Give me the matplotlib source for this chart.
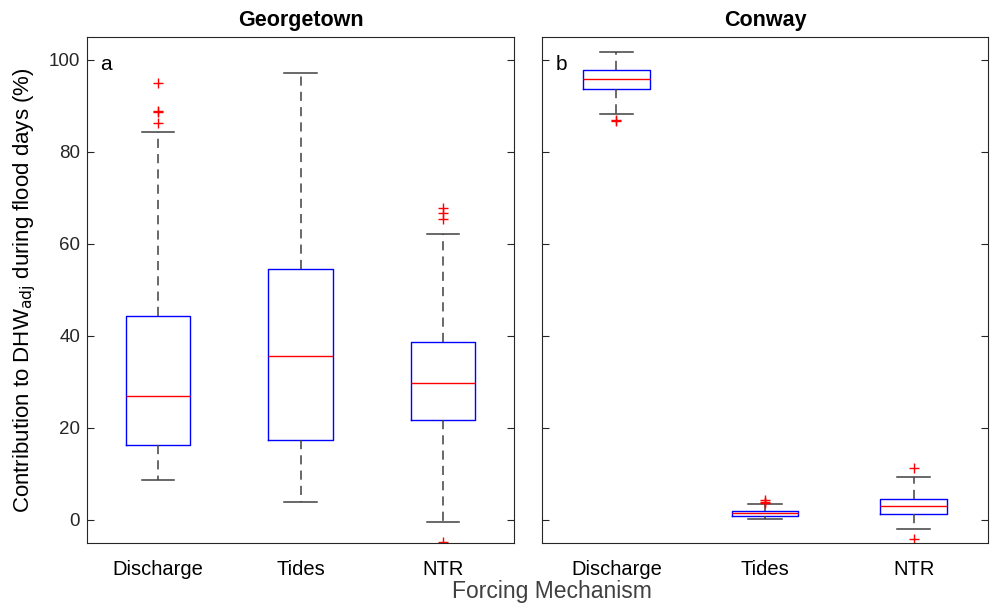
import matplotlib
matplotlib.use("Agg")
import matplotlib.pyplot as plt

plt.rcParams['font.family'] = ['Liberation Sans', 'DejaVu Sans']

categories = ["Discharge", "Tides", "NTR"]
sites = ["Georgetown", "Conway"]
panel_letters = ["a", "b"]

# Box statistics (% contribution to DHW_adj during flood days)
georgetown_whislo = [8.6, 3.9, -0.4]
georgetown_q1 = [16.4, 17.3, 21.8]
georgetown_med = [27.0, 35.6, 29.8]
georgetown_q3 = [44.3, 54.6, 38.7]
georgetown_whishi = [84.4, 97.2, 62.2]
georgetown_fliers = [[86.4, 88.6, 89.0, 94.9], [], [65.4, 66.7, 67.8, -4.8]]

conway_whislo = [88.2, 0.2, -1.9]
conway_q1 = [93.7, 0.9, 1.3]
conway_med = [95.8, 1.5, 3.0]
conway_q3 = [97.9, 1.9, 4.5]
conway_whishi = [101.8, 3.5, 9.3]
conway_fliers = [[86.8, 87.0], [3.8, 4.0, 4.3], [11.2, -4.1]]

yticks = [0, 20, 40, 60, 80, 100]


def build_stats(lo, q1, med, q3, hi, fl):
    return [dict(whislo=a, q1=b, med=c, q3=d, whishi=e, fliers=f, label=lab)
            for a, b, c, d, e, f, lab in zip(lo, q1, med, q3, hi, fl, categories)]


stats = [
    build_stats(georgetown_whislo, georgetown_q1, georgetown_med,
                georgetown_q3, georgetown_whishi, georgetown_fliers),
    build_stats(conway_whislo, conway_q1, conway_med,
                conway_q3, conway_whishi, conway_fliers),
]

fig = plt.figure(figsize=(9.9, 6.05), dpi=100)
axes = [fig.add_axes([87 / 990, 62 / 605, 427 / 990, 506 / 605]),
        fig.add_axes([542 / 990, 62 / 605, 446 / 990, 506 / 605])]

spine_col = (0.15, 0.15, 0.15)
whisker_col = (0.25, 0.25, 0.25)
for ax, st, site, letter in zip(axes, stats, sites, panel_letters):
    ax.bxp(st, positions=[1, 2, 3], widths=0.45, showfliers=True,
           boxprops=dict(color='blue', linewidth=1.0),
           medianprops=dict(color='red', linewidth=1.0),
           whiskerprops=dict(color=whisker_col, linestyle=(0, (6, 4)), linewidth=1.1),
           capprops=dict(color=whisker_col, linewidth=1.1),
           capwidths=0.225,
           flierprops=dict(marker='+', markeredgecolor='red', markersize=7.5,
                           markeredgewidth=1.0, linestyle='none'))
    ax.set_xlim(0.5, 3.5)
    ax.set_ylim(-5, 105)
    ax.set_yticks(yticks)
    ax.tick_params(axis='y', direction='in', left=True, right=True, length=5,
                   width=0.8, color=spine_col, labelsize=13.5,
                   labelcolor=(0.15, 0.15, 0.15), pad=5)
    ax.tick_params(axis='x', length=0, labelsize=14.5, pad=12, labelcolor='black')
    for s in ax.spines.values():
        s.set_color(spine_col)
        s.set_linewidth(0.8)
    ax.set_title(site, fontsize=15.5, fontweight='bold', pad=8)
    ax.text(0.03, 0.965, letter, transform=ax.transAxes, fontsize=15,
            ha='left', va='top')

axes[1].tick_params(axis='y', labelleft=False)

fig.text(0.025, 62 / 605 + 253 / 605,
         r"Contribution to DHW$_{\mathrm{adj}}$ during flood days (%)",
         rotation=90, ha='center', va='center', fontsize=16)
fig.text(552 / 990, 2 / 605, "Forcing Mechanism", ha='center', va='bottom',
         fontsize=16.5, color=(0.25, 0.25, 0.25))

fig.savefig("out.png", dpi=100)
